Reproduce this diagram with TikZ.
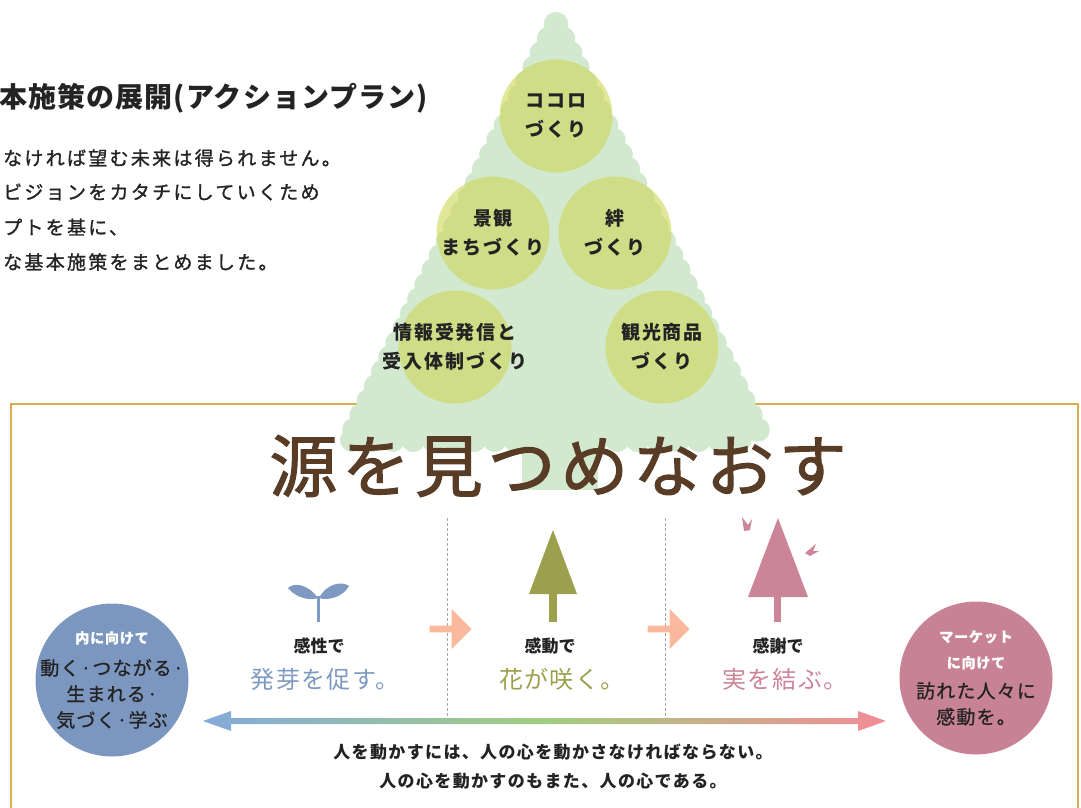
\documentclass[tikz,border=0pt]{standalone}
\usepackage{fontspec}
\usepackage{tikz}
\usetikzlibrary{calc,shapes.arrows}

\newfontfamily\jp{Noto Sans CJK JP}

\definecolor{inkdark}{RGB}{35,35,35}
\definecolor{frameline}{RGB}{214,174,78}
\definecolor{treeleaf}{RGB}{210,233,208}
\definecolor{ballgreen}{RGB}{205,215,85}
\definecolor{mottobrown}{RGB}{88,60,38}
\definecolor{sproutblue}{RGB}{126,153,194}
\definecolor{olivetree}{RGB}{156,160,76}
\definecolor{pinktree}{RGB}{204,132,152}
\definecolor{steporange}{RGB}{250,184,156}
\definecolor{innerblue}{RGB}{124,151,191}
\definecolor{marketpink}{RGB}{200,130,150}
\definecolor{arrowblue}{RGB}{132,170,220}
\definecolor{arrowgreen}{RGB}{162,206,128}
\definecolor{arrowpink}{RGB}{242,140,150}

\begin{document}
\begin{tikzpicture}
	[x=1pt,y=-1pt,
	ball/.style={circle,fill=ballgreen,fill opacity=.6,text opacity=1,minimum size=113pt,inner sep=-30pt,
		align=center,text=inkdark,font={\jp\bfseries\fontsize{19}{29}\selectfont\addfontfeatures{LetterSpace=10}}},
	bodytext/.style={anchor=west,inner sep=0pt,text=inkdark,font={\jp\fontsize{19}{24}\selectfont\addfontfeatures{LetterSpace=12,FakeBold=1.2}}},
	caption/.style={inner sep=0pt,text=inkdark,font={\jp\bfseries\fontsize{17}{20}\selectfont}},
	phrase/.style={inner sep=0pt,font={\jp\fontsize{24}{28}\selectfont\addfontfeatures{LetterSpace=6}}},
	blockarrow/.style={single arrow,fill=steporange,minimum height=42pt,minimum width=40pt,
		single arrow head extend=1pt,inner sep=0pt},
	goal/.style={circle,minimum size=153pt,inner sep=-20pt,align=center,text=inkdark,
		font={\jp\fontsize{19}{26}\selectfont\addfontfeatures{LetterSpace=6,FakeBold=0.8}}},
	divider/.style={gray!70,line width=.8pt,dash pattern=on 3pt off 2pt}]
	\useasboundingbox (0,0) rectangle (1081,807);
	
	% frame of the lower panel
	\draw[frameline,line width=2pt] (11,404) rectangle (1078,850);
	
	% big tree
	\fill[treeleaf] (522,430) rectangle (598,490);
	\fill[treeleaf] (556,22) -- (348,440) -- (764,440) -- cycle;
	\foreach \t in {0,0.035,...,1.0}
	{
		\fill[treeleaf] ($(556,24)!\t!(350,438)$) circle (12pt);
		\fill[treeleaf] ($(556,24)!\t!(762,438)$) circle (12pt);
	}
	\foreach \t in {0,0.05,...,1.0}
	\fill[treeleaf] ($(352,440)!\t!(760,440)$) circle (12pt);
	
	\node[ball] (kokoro) at (556,116) {ココロ\\づくり};
	\node[ball] (keikan) at (493,233) {景観\\まちづくり};
	\node[ball] (kizuna) at (615,233) {絆\\づくり};
	\node[ball] (joho) at (455,347) {情報受発信と\\受入体制づくり};
	\node[ball] (kanko) at (662,347) {観光商品\\づくり};
	
	% heading and lead text
	\node[anchor=west,inner sep=0pt,text=inkdark,font={\jp\bfseries\fontsize{28}{30}\selectfont\addfontfeatures{LetterSpace=4}}]
	(heading) at (-1,98) {本施策の展開(アクションプラン)};
	\node[bodytext] (lead1) at (3,158) {なければ望む未来は得られません。};
	\node[bodytext] (lead2) at (3,192) {ビジョンをカタチにしていくため};
	\node[bodytext] (lead3) at (3,227) {プトを基に、};
	\node[bodytext] (lead4) at (3,262) {な基本施策をまとめました。};
	
	\node[inner sep=0pt,text=mottobrown,font={\jp\fontsize{68}{70}\selectfont\addfontfeatures{LetterSpace=7,FakeBold=1.5}}]
	(motto) at (558,466) {源を見つめなおす};
	
	% dividers between the stages
	\coordinate (d1top) at (447,518);
	\coordinate (d1bot) at (447,722);
	\coordinate (d2top) at (665,518);
	\coordinate (d2bot) at (665,722);
	\foreach \from/\to in {d1top/d1bot,d2top/d2bot}
	\draw[divider] (\from) -- (\to);
	
	% sprout
	\fill[sproutblue] (318,598) .. controls (308,584) and (294,582) .. (288,588)
		.. controls (296,598) and (310,601) .. (318,598) -- cycle;
	\fill[sproutblue] (319,598) .. controls (327,583) and (342,581) .. (349,586)
		.. controls (343,597) and (328,601) .. (319,598) -- cycle;
	\draw[sproutblue,line width=3pt] (318,596) -- (318,622);
	
	% olive tree
	\fill[olivetree] (553,530) -- (529,594) -- (577,594) -- cycle;
	\fill[olivetree] (549,590) rectangle (557,622);
	
	% pink tree and birds
	\fill[pinktree] (778,518) -- (748,597) -- (808,597) -- cycle;
	\fill[pinktree] (774,594) rectangle (781,622);
	\fill[pinktree] (742,517) -- (748,525) -- (752,519) -- (750,530) -- (744,531) -- cycle;
	\fill[pinktree] (805,553) -- (816,544) -- (813,551) -- (819,551) -- (810,556) -- cycle;
	
	\node[blockarrow] (step1) at (449,629) {};
	\node[blockarrow] (step2) at (667,629) {};
	
	\node[caption] (kansei) at (319,646) {感性で};
	\node[phrase,text=sproutblue] (hatsuga) at (325,679) {発芽を促す。};
	\node[caption] (kando) at (550,646) {感動で};
	\node[phrase,text=olivetree] (hana) at (562,679) {花が咲く。};
	\node[caption] (kansha) at (778,646) {感謝で};
	\node[phrase,text=pinktree] (mi) at (785,679) {実を結ぶ。};
	
	% both ends
	\node[goal,fill=innerblue] (inner) at (112,680)
	{{\bfseries\color{white}\fontsize{14}{18}\selectfont 内に向けて}\\[6pt]
		動く·つながる·\\生まれる·\\気づく·学ぶ};
	\node[goal,fill=marketpink] (market) at (976,678)
	{{\bfseries\color{white}\fontsize{14}{25}\selectfont マーケット}\\{\bfseries\color{white}\fontsize{14}{25}\selectfont に向けて}\\[4pt]
		訪れた人々に\\感動を。};
	
	% gradient double arrow
	\coordinate (arrL) at (203,721);
	\coordinate (arrR) at (886,721);
	\shade[left color=arrowblue,right color=arrowpink,middle color=arrowgreen]
	(arrL) -- ([shift={(28,-10)}]arrL) -- ([shift={(28,-3)}]arrL)
	-- ([shift={(-28,-3)}]arrR) -- ([shift={(-28,-10)}]arrR) -- (arrR)
	-- ([shift={(-28,10)}]arrR) -- ([shift={(-28,3)}]arrR)
	-- ([shift={(28,3)}]arrL) -- ([shift={(28,10)}]arrL) -- cycle;
	
	\node[caption,font={\jp\bfseries\fontsize{17}{20}\selectfont\addfontfeatures{LetterSpace=8}}]
	(saying1) at (553,752) {人を動かすには、人の心を動かさなければならない。};
	\node[caption,font={\jp\bfseries\fontsize{17}{20}\selectfont\addfontfeatures{LetterSpace=8}}]
	(saying2) at (553,781) {人の心を動かすのもまた、人の心である。};
\end{tikzpicture}
\end{document}
